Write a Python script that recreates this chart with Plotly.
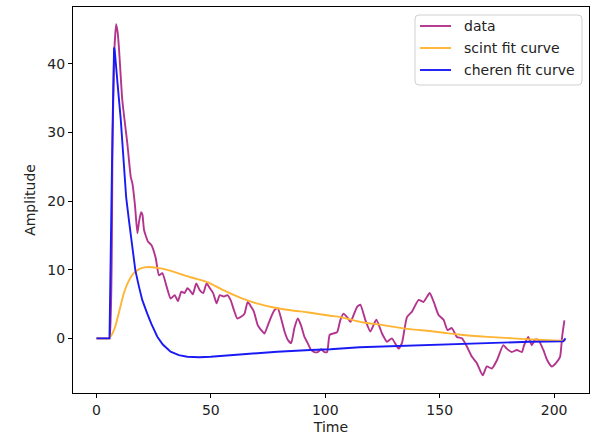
import plotly.graph_objects as go

# Measured pulse (time, amplitude)
time_data = [0, 5.0, 5.7, 7.0, 7.7, 8.6, 9.3, 9.9, 11.3, 13.5, 15.0, 15.7, 16.8, 17.9, 18.6,
             19.5, 20.1, 20.8, 22.5, 24.0, 25.9, 27.3, 28.8, 30.7, 32.4, 34.2, 35.6, 37.1,
             38.5, 39.7, 40.8, 42.1, 43.6, 45.2, 46.7, 48.1, 49.6, 51.0, 52.5, 53.9, 55.7,
             57.2, 58.6, 60.1, 61.5, 63.0, 64.7, 66.1, 67.6, 68.8, 70.5, 72.0, 73.4, 74.9,
             76.3, 77.8, 79.2, 80.7, 82.2, 83.6, 85.1, 86.5, 88.0, 89.4, 90.9, 92.3, 93.8,
             95.2, 96.7, 98.2, 99.6, 100.8, 101.9, 103.4, 105.2, 106.6, 108.0, 109.5, 111.0,
             112.4, 113.9, 115.3, 117.5, 119.7, 122.3, 124.8, 127.0, 129.1, 132.0, 133.5,
             135.7, 137.9, 140.8, 142.9, 145.6, 147.4, 149.5, 151.7, 153.4, 155.3, 157.5,
             159.7, 161.9, 164.1, 166.2, 168.8, 170.6, 172.8, 175.0, 177.8, 179.3, 181.5,
             183.7, 185.9, 186.9, 188.7, 190.2, 191.7, 193.1, 195.3, 197.0, 199.0, 200.8,
             202.6, 203.5, 204.5]
amp_data = [0, 0, 0, 27.0, 41.0, 45.8, 44.5, 42.0, 34.7, 28.4, 23.5, 22.6, 19.5, 15.3, 17.0,
            18.4, 18.0, 15.8, 14.1, 13.6, 11.7, 9.2, 9.5, 7.5, 5.8, 6.3, 5.4, 6.8,
            6.6, 7.3, 7.0, 6.4, 8.0, 7.0, 6.6, 8.0, 7.3, 6.6, 5.1, 6.3, 6.1,
            6.3, 5.6, 4.1, 2.9, 3.1, 3.6, 5.3, 4.6, 3.9, 1.9, 1.2, 0.7, 1.9,
            3.1, 4.1, 4.4, 2.9, 1.0, -0.2, -0.7, 1.5, 2.9, 1.9, 0.2, -0.7, -1.7,
            -2.0, -2.0, -1.6, -2.0, -2.0, 0.5, 0.7, 0.9, 2.7, 3.6, 3.1, 2.4,
            3.4, 4.6, 4.9, 2.7, 1.0, 2.7, 0.7, -0.5, 0.0, -1.5, -0.7,
            3.1, 3.9, 5.6, 5.3, 6.6, 5.3, 3.4, 2.7, 1.2, 1.5, 0.2,
            0.0, -1.2, -2.7, -3.6, -5.4, -4.1, -4.4, -3.2, -1.0, -1.5, -2.0,
            -1.7, -2.0, -1.0, 0.2, -1.0, -0.2, -0.2, -1.7, -3.2, -4.1, -3.6,
            -2.7, 0.2, 2.6]

# Scintillation component of the fit
time_scint = [0, 5.5, 6.5, 8.0, 10.0, 12.0, 14.0, 16.0, 18.6, 21.0, 23.0, 28.0, 33.9, 41.1,
              48.4, 55.0, 63.0, 70.0, 77.5, 85.0, 92.0, 102.2, 106.6, 116.8, 124.0, 131.3,
              138.0, 145.9, 153.0, 160.4, 167.0, 175.0, 182.0, 189.5, 197.0, 204.0, 205.0]
amp_scint = [0, 0, 0.4, 1.5, 4.0, 6.6, 8.3, 9.4, 10.1, 10.35, 10.4, 10.2, 9.7, 8.9,
             8.2, 7.1, 5.9, 5.1, 4.5, 4.1, 3.8, 3.3, 3.1, 2.3, 2.0, 1.6,
             1.3, 1.06, 0.75, 0.48, 0.3, 0.14, 0.0, -0.15, -0.28, -0.35, -0.3]

# Cherenkov component of the fit
time_cheren = [0, 5.7, 7.0, 7.4, 7.7, 8.0, 8.4, 9.2, 10.6, 12.0, 13.0, 14.2, 15.7, 17.0, 18.6,
               20.0, 22.2, 24.0, 26.6, 29.0, 32.4, 36.0, 39.7, 45.0, 49.9, 64.4, 79.0, 93.5,
               102.2, 115.0, 131.3, 160.4, 189.5, 204.0, 205.0]
amp_cheren = [0, 0, 30.0, 40.5, 42.4, 41.9, 40.0, 37.2, 32.0, 24.5, 20.5, 17.2, 12.9, 9.9, 7.5,
              5.6, 3.6, 2.1, 0.23, -0.9, -1.95, -2.45, -2.68, -2.75, -2.68, -2.3, -1.95, -1.7,
              -1.6, -1.3, -1.12, -0.73, -0.5, -0.45, 0.0]

x_ticks = [0, 50, 100, 150, 200]
y_ticks = [0, 10, 20, 30, 40]

series_names = ["data", "scint fit curve", "cheren fit curve"]
series_colors = ["#b3348d", "#ffb433", "#1a1af5"]

FONT = "DejaVu Sans"
TEXT = "#222222"

fig = go.Figure()
fig.add_trace(go.Scatter(x=time_data, y=amp_data, mode="lines", name=series_names[0],
                         showlegend=False,
                         line=dict(color=series_colors[0], width=1.9, shape="spline", smoothing=0.5)))
fig.add_trace(go.Scatter(x=time_scint, y=amp_scint, mode="lines", name=series_names[1],
                         showlegend=False,
                         line=dict(color=series_colors[1], width=1.9, shape="spline", smoothing=0.6)))
fig.add_trace(go.Scatter(x=time_cheren, y=amp_cheren, mode="lines", name=series_names[2],
                         showlegend=False,
                         line=dict(color=series_colors[2], width=1.9)))

axis_common = dict(
    showgrid=False, zeroline=False, showline=True, linecolor="black", linewidth=1,
    mirror=True, ticks="outside", ticklen=4, tickwidth=1, tickcolor="black",
    tickfont=dict(family=FONT, size=14, color=TEXT),
)

# Legend box drawn in paper coordinates (plot area is 516 x 386 px)
PW, PH = 516.0, 386.0


def px_x(p):
    return (p - 73.0) / PW


def px_y(p):
    return (393.0 - p) / PH


box_l, box_r, box_t, box_b, rad = 415, 582, 15, 85, 4
rx, ry = rad / PW, rad / PH
L, R, T, B = px_x(box_l), px_x(box_r), px_y(box_t), px_y(box_b)
box_path = (
    f"M {L + rx},{T} L {R - rx},{T} Q {R},{T} {R},{T - ry} "
    f"L {R},{B + ry} Q {R},{B} {R - rx},{B} L {L + rx},{B} "
    f"Q {L},{B} {L},{B + ry} L {L},{T - ry} Q {L},{T} {L + rx},{T} Z"
)
shapes = [dict(type="path", xref="paper", yref="paper", path=box_path,
               line=dict(color="#d0d0d0", width=1), fillcolor="rgba(255,255,255,0.8)")]
annotations = []
for i, (name, color) in enumerate(zip(series_names, series_colors)):
    yy = px_y(26 + 22 * i)
    shapes.append(dict(type="line", xref="paper", yref="paper",
                       x0=px_x(420), x1=px_x(451), y0=yy, y1=yy,
                       line=dict(color=color, width=1.9)))
    annotations.append(dict(xref="paper", yref="paper", x=px_x(462), y=yy,
                            xanchor="left", yanchor="middle", showarrow=False,
                            text=name, font=dict(family=FONT, size=14, color=TEXT)))

fig.update_layout(
    width=595, height=439,
    margin=dict(l=73, r=6, t=7, b=46),
    paper_bgcolor="white", plot_bgcolor="white",
    font=dict(family=FONT, size=14, color=TEXT),
    xaxis=dict(range=[-10.25, 215.25], tickvals=x_ticks,
               title=dict(text="Time", standoff=5, font=dict(family=FONT, size=14)),
               **axis_common),
    yaxis=dict(range=[-7.97, 48.3], tickvals=y_ticks,
               title=dict(text="Amplitude", standoff=8, font=dict(family=FONT, size=14)),
               **axis_common),
    shapes=shapes,
    annotations=annotations,
    showlegend=False,
)

fig.write_html("out.html")
